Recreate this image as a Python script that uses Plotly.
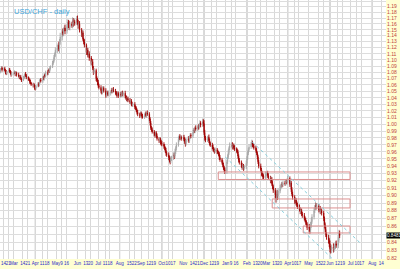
import numpy as np
import pandas as pd
import plotly.graph_objects as go

# ---------------- data (daily closes) ----------------
close_2010_02 = [1.0820, 1.0850, 1.0870, 1.0840, 1.0860, 1.0830, 1.0800, 1.0780, 1.0810, 1.0840, 1.0820, 1.0790, 1.0760, 1.0780]
close_2010_03 = [1.0790, 1.0800, 1.0770, 1.0790, 1.0760, 1.0740, 1.0720, 1.0730, 1.0700, 1.0680, 1.0710, 1.0740, 1.0770, 1.0750, 1.0720, 1.0690, 1.0680, 1.0650, 1.0630, 1.0610, 1.0590, 1.0600, 1.0560]
close_2010_04 = [1.0550, 1.0580, 1.0620, 1.0600, 1.0650, 1.0680, 1.0660, 1.0720, 1.0700, 1.0760, 1.0740, 1.0800, 1.0780, 1.0840, 1.0820, 1.0870, 1.0890, 1.0950, 1.0980, 1.1040, 1.1090, 1.1160]
close_2010_05 = [1.1200, 1.1240, 1.1180, 1.1300, 1.1380, 1.1470, 1.1440, 1.1510, 1.1530, 1.1480, 1.1560, 1.1630, 1.1590, 1.1540, 1.1600, 1.1570, 1.1660, 1.1610, 1.1640, 1.1620, 1.1690]
close_2010_06 = [1.1630, 1.1570, 1.1600, 1.1500, 1.1420, 1.1450, 1.1340, 1.1300, 1.1240, 1.1130, 1.1160, 1.1080, 1.1100, 1.1030, 1.0940, 1.0970, 1.0870, 1.0800, 1.0830, 1.0700, 1.0680, 1.0640]
close_2010_07 = [1.0590, 1.0560, 1.0510, 1.0480, 1.0530, 1.0550, 1.0510, 1.0440, 1.0460, 1.0480, 1.0450, 1.0470, 1.0490, 1.0520, 1.0500, 1.0530, 1.0510, 1.0480, 1.0460, 1.0440, 1.0470, 1.0430]
close_2010_08 = [1.0460, 1.0440, 1.0480, 1.0450, 1.0470, 1.0420, 1.0400, 1.0370, 1.0390, 1.0360, 1.0330, 1.0350, 1.0310, 1.0290, 1.0300, 1.0260, 1.0240, 1.0210, 1.0180, 1.0150, 1.0130, 1.0160]
close_2010_09 = [1.0150, 1.0120, 1.0110, 1.0140, 1.0160, 1.0130, 1.0170, 1.0150, 1.0080, 1.0020, 0.9950, 0.9920, 0.9890, 0.9860, 0.9840, 0.9870, 0.9830, 0.9790, 0.9760, 0.9780, 0.9740, 0.9720]
close_2010_10 = [0.9710, 0.9680, 0.9650, 0.9620, 0.9580, 0.9560, 0.9520, 0.9490, 0.9470, 0.9500, 0.9520, 0.9560, 0.9540, 0.9600, 0.9650, 0.9700, 0.9780, 0.9820, 0.9800, 0.9810, 0.9790]
close_2010_11 = [0.9810, 0.9780, 0.9750, 0.9720, 0.9770, 0.9790, 0.9760, 0.9810, 0.9840, 0.9830, 0.9880, 0.9920, 0.9900, 0.9950, 0.9930, 0.9970, 0.9950, 0.9990, 1.0020, 0.9990, 1.0040, 1.0010]
close_2010_12 = [0.9880, 0.9800, 0.9770, 0.9790, 0.9810, 0.9760, 0.9720, 0.9700, 0.9670, 0.9640, 0.9620, 0.9610, 0.9630, 0.9600, 0.9590, 0.9570, 0.9520, 0.9490, 0.9450, 0.9420, 0.9380, 0.9350, 0.9330]
close_2011_01 = [0.9460, 0.9530, 0.9590, 0.9650, 0.9690, 0.9700, 0.9670, 0.9690, 0.9660, 0.9640, 0.9620, 0.9600, 0.9540, 0.9480, 0.9450, 0.9410, 0.9380, 0.9400, 0.9370, 0.9390, 0.9440]
close_2011_02 = [0.9510, 0.9580, 0.9630, 0.9670, 0.9710, 0.9730, 0.9700, 0.9680, 0.9660, 0.9620, 0.9580, 0.9530, 0.9460, 0.9400, 0.9350, 0.9300, 0.9280, 0.9260, 0.9240, 0.9290]
close_2011_03 = [0.9290, 0.9300, 0.9270, 0.9240, 0.9200, 0.9220, 0.9160, 0.9120, 0.9070, 0.9010, 0.8960, 0.9020, 0.8990, 0.9060, 0.9110, 0.9130, 0.9150, 0.9140, 0.9170, 0.9160, 0.9190, 0.9180, 0.9200]
close_2011_04 = [0.9230, 0.9150, 0.9170, 0.9080, 0.9020, 0.8980, 0.8920, 0.8940, 0.8900, 0.8880, 0.8850, 0.8820, 0.8790, 0.8800, 0.8760, 0.8740, 0.8700, 0.8680, 0.8650, 0.8620, 0.8590]
close_2011_05 = [0.8570, 0.8550, 0.8610, 0.8660, 0.8720, 0.8800, 0.8840, 0.8870, 0.8850, 0.8860, 0.8810, 0.8830, 0.8790, 0.8800, 0.8770, 0.8700, 0.8620, 0.8560, 0.8500, 0.8460, 0.8420, 0.8380]
close_2011_06 = [0.8320, 0.8300, 0.8340, 0.8310, 0.8330, 0.8350, 0.8380, 0.8360, 0.8430, 0.8510, 0.8481]

first_open = 1.0800
first_date = "2010-02-09"

# upper / lower wick lengths in pips (one row per month)
hi_wick_pips = [
    25, 18, 30, 22, 15, 28, 20, 35, 12, 24, 30, 18, 26, 20,
    22, 30, 15, 26, 20, 34, 18, 24, 28, 16, 30, 22, 19, 35, 25, 14, 28, 20, 32, 18, 24, 27, 21,
    30, 18, 25, 22, 35, 16, 28, 20, 24, 30, 15, 26, 33, 18, 22, 29, 20, 35, 25, 40, 30, 45,
    50, 35, 60, 45, 70, 40, 55, 30, 45, 60, 35, 50, 40, 65, 45, 38, 55, 42, 60, 35, 48,
    55, 40, 35, 50, 30, 45, 38, 25, 42, 30, 48, 35, 28, 40, 33, 25, 45, 30, 38, 28, 35, 30,
    40, 28, 35, 22, 45, 30, 26, 38, 20, 32, 28, 40, 24, 30, 35, 22, 36, 28, 25, 33, 30, 26,
    28, 35, 22, 30, 26, 38, 20, 32, 25, 28, 36, 22, 30, 27, 24, 33, 21, 29, 26, 35, 23, 30,
    30, 25, 35, 22, 28, 32, 20, 36, 30, 25, 28, 22, 34, 26, 30, 24, 28, 35, 22, 30, 26, 32,
    35, 28, 30, 25, 38, 22, 32, 27, 30, 40, 25, 33, 28, 45, 30, 36, 42, 28, 35, 30, 26,
    30, 35, 28, 40, 26, 32, 38, 25, 30, 28, 36, 24, 32, 27, 35, 22, 30, 28, 40, 26, 45, 35,
    50, 38, 30, 35, 28, 40, 32, 26, 30, 35, 24, 28, 33, 25, 30, 22, 27, 35, 25, 30, 28, 24, 30,
    30, 35, 40, 28, 45, 32, 38, 26, 30, 35, 24, 28, 30, 25, 32, 28, 35, 24, 30, 26, 38,
    30, 35, 28, 40, 32, 45, 30, 26, 35, 28, 32, 25, 30, 28, 35, 24, 30, 26, 28, 35,
    32, 28, 35, 30, 26, 38, 28, 32, 25, 30, 45, 60, 50, 38, 30, 28, 35, 25, 30, 28, 32, 26, 30,
    35, 28, 40, 26, 32, 30, 25, 35, 28, 30, 26, 32, 24, 30, 28, 25, 30, 26, 28, 24, 30,
    40, 30, 45, 50, 35, 40, 32, 45, 30, 38, 28, 35, 30, 32, 28, 30, 25, 28, 30, 26, 32, 28,
    40, 35, 30, 45, 28, 35, 30, 40, 32, 45, 35,
]
lo_wick_pips = [
    20, 28, 15, 30, 22, 18, 32, 25, 20, 16, 28, 22, 30, 18,
    26, 18, 32, 20, 28, 22, 30, 16, 25, 34, 20, 18, 27, 22, 30, 24, 18, 33, 20, 26, 30, 22, 35,
    35, 25, 20, 30, 18, 28, 22, 26, 20, 32, 24, 18, 28, 22, 30, 20, 26, 22, 30, 25, 35, 40,
    45, 55, 40, 70, 50, 60, 35, 48, 40, 55, 45, 38, 60, 42, 50, 35, 45, 55, 40, 48, 38,
    40, 50, 35, 45, 40, 55, 30, 42, 35, 48, 30, 40, 35, 45, 28, 38, 32, 42, 30, 40, 35, 45,
    35, 30, 42, 28, 25, 36, 30, 40, 26, 32, 28, 24, 35, 22, 30, 28, 25, 34, 30, 38, 24, 32,
    30, 24, 32, 26, 35, 28, 30, 22, 34, 28, 25, 30, 38, 24, 30, 32, 26, 28, 35, 30, 36, 25,
    28, 32, 25, 30, 22, 26, 35, 24, 30, 38, 32, 28, 26, 30, 34, 24, 30, 28, 32, 26, 34, 30,
    30, 35, 28, 32, 36, 30, 38, 40, 45, 30, 28, 35, 40, 26, 30, 28, 25, 32, 30, 28, 30,
    32, 28, 35, 45, 30, 26, 32, 28, 25, 34, 30, 26, 28, 30, 24, 32, 28, 26, 30, 35, 28, 40,
    35, 40, 32, 28, 30, 35, 30, 28, 32, 30, 26, 35, 28, 30, 25, 32, 35, 30, 28, 35, 32, 30, 38,
    38, 30, 28, 32, 26, 30, 35, 28, 30, 26, 32, 28, 35, 30, 28, 32, 30, 26, 35, 28, 30,
    35, 28, 26, 30, 28, 25, 32, 30, 28, 30, 26, 35, 30, 32, 28, 35, 30, 38, 32, 30,
    30, 28, 32, 30, 35, 28, 30, 32, 35, 40, 55, 45, 50, 35, 30, 28, 32, 30, 26, 28, 30, 28, 32,
    28, 35, 30, 32, 28, 35, 30, 26, 32, 30, 28, 30, 35, 26, 30, 32, 28, 30, 32, 35, 38,
    40, 45, 32, 30, 28, 32, 30, 28, 35, 30, 32, 28, 35, 30, 32, 35, 38, 32, 35, 30, 38, 40,
    45, 40, 35, 38, 32, 30, 35, 30, 35, 32, 30,
]

# drawn support boxes and trend channel
box_start = ["2010-12-21 12:00", "2011-03-09 12:00", "2011-04-23 08:00"]
box_end = ["2011-06-30", "2011-06-30", "2011-06-30"]
box_low = [0.9216, 0.8836, 0.8515]
box_high = [0.9319, 0.8954, 0.8603]
chan_upper_dates = ["2011-02-08 14:00", "2011-07-14 17:00"]
chan_upper_prices = [0.9742, 0.8390]
chan_lower_dates = ["2010-12-31 14:00", "2011-06-18 14:00"]
chan_lower_prices = [0.9528, 0.8085]

# axes
x_range = ["2010-02-09", "2011-08-21"]
y_range = [0.8193, 1.2019]
xtick_dates = ["2010-02-14", "2010-02-21",
               "2010-03-01", "2010-03-14", "2010-03-21",
               "2010-04-01", "2010-04-11", "2010-04-18",
               "2010-05-01", "2010-05-09", "2010-05-16",
               "2010-06-01", "2010-06-13", "2010-06-20",
               "2010-07-01", "2010-07-11", "2010-07-18",
               "2010-08-01", "2010-08-15", "2010-08-22",
               "2010-09-01", "2010-09-12", "2010-09-19",
               "2010-10-01", "2010-10-10", "2010-10-17",
               "2010-11-01", "2010-11-14", "2010-11-21",
               "2010-12-01", "2010-12-12", "2010-12-19",
               "2011-01-01", "2011-01-09", "2011-01-16",
               "2011-02-01", "2011-02-13", "2011-02-20",
               "2011-03-01", "2011-03-13", "2011-03-20",
               "2011-04-01", "2011-04-10", "2011-04-17",
               "2011-05-01", "2011-05-15", "2011-05-22",
               "2011-06-01", "2011-06-12", "2011-06-19",
               "2011-07-01", "2011-07-10", "2011-07-17",
               "2011-08-01", "2011-08-14"]
xtick_text = ["14", "21",
              "Mar", "14", "21",
              "Apr", "11", "18",
              "May", "9", "16",
              "Jun", "13", "20",
              "Jul", "11", "18",
              "Aug", "15", "22",
              "Sep", "12", "19",
              "Oct", "10", "17",
              "Nov", "14", "21",
              "Dec", "12", "19",
              "Jan", "9", "16",
              "Feb", "13", "20",
              "Mar", "13", "20",
              "Apr", "10", "17",
              "May", "15", "22",
              "Jun", "12", "19",
              "Jul", "10", "17",
              "Aug", "14"]
dark_grid_dates = ["2010-04-01", "2010-06-01", "2010-08-01", "2010-10-01", "2010-12-01",
                   "2011-02-01", "2011-04-01", "2011-06-01", "2011-08-01"]
ytick_vals = [0.82, 0.83, 0.84, 0.85, 0.86, 0.87, 0.88, 0.89, 0.90, 0.91, 0.92, 0.93, 0.94,
              0.95, 0.96, 0.97, 0.98, 0.99, 1.00, 1.01, 1.02, 1.03, 1.04, 1.05, 1.06, 1.07,
              1.08, 1.09, 1.10, 1.11, 1.12, 1.13, 1.14, 1.15, 1.16, 1.17, 1.18, 1.19, 1.20]
ytick_hidden = [0.85]   # covered by the last-price box in the original

# ---------------- assemble OHLC ----------------
close = np.array(close_2010_02 + close_2010_03 + close_2010_04 + close_2010_05 + close_2010_06 +
                 close_2010_07 + close_2010_08 + close_2010_09 + close_2010_10 + close_2010_11 +
                 close_2010_12 + close_2011_01 + close_2011_02 + close_2011_03 + close_2011_04 +
                 close_2011_05 + close_2011_06)
n = len(close)
assert len(hi_wick_pips) == n and len(lo_wick_pips) == n, (n, len(hi_wick_pips), len(lo_wick_pips))
dates = pd.bdate_range(first_date, periods=n)
open_ = np.concatenate([[first_open], close[:-1]])
high = np.maximum(open_, close) + np.array(hi_wick_pips) / 10000.0
low = np.minimum(open_, close) - np.array(lo_wick_pips) / 10000.0

fig = go.Figure()

# darker vertical grid lines (every second month)
for d in dark_grid_dates:
    fig.add_shape(type="line", xref="x", yref="paper", x0=d, x1=d, y0=0, y1=1,
                  line=dict(color="#ABABAB", width=1), layer="below")

# boxes
for s, e, lo, hi in zip(box_start, box_end, box_low, box_high):
    fig.add_trace(go.Scatter(x=[s, e, e, s, s], y=[lo, lo, hi, hi, lo], mode="lines",
                             line=dict(color="#DB9090", width=1), hoverinfo="skip",
                             showlegend=False))

# channel lines
for cx, cy in ((chan_upper_dates, chan_upper_prices), (chan_lower_dates, chan_lower_prices)):
    fig.add_trace(go.Scatter(x=cx, y=cy, mode="lines",
                             line=dict(color="#86CEDC", width=1, dash="dot"), hoverinfo="skip",
                             showlegend=False))

fig.add_trace(go.Candlestick(
    x=dates, open=open_, high=high, low=low, close=close,
    increasing=dict(line=dict(color="#A6A6A6", width=0.9), fillcolor="#EDEDED"),
    decreasing=dict(line=dict(color="#A00000", width=0.9), fillcolor="#C00000"),
    whiskerwidth=0, showlegend=False, hoverinfo="skip"))

fig.add_annotation(text="USD/CHF - daily", xref="paper", yref="paper",
                   x=12 / 386, y=1 - 11 / 259, xanchor="left", yanchor="middle",
                   showarrow=False,
                   font=dict(family="Liberation Sans, Arial", size=7.5, color="#3DA5DA"))

fig.add_annotation(text=f"{close[-1]:.4f}", xref="paper", yref="y",
                   x=1.0, y=np.log10(close[-1]), xanchor="left", yanchor="middle",
                   showarrow=False, bgcolor="#000000", borderpad=0,
                   font=dict(family="Liberation Sans, Arial", size=4.6, color="#FFFFFF"))

fig.update_layout(
    width=400, height=269,
    margin=dict(l=0, r=14, t=0, b=10),
    paper_bgcolor="#FFFFD2", plot_bgcolor="#FFFFFF",
    showlegend=False,
    xaxis=dict(type="date", range=x_range, tickmode="array", tickvals=xtick_dates,
               ticktext=xtick_text, tickangle=0, showgrid=True, gridcolor="#D8D8D8",
               gridwidth=1, ticks="", showline=False, zeroline=False,
               tickfont=dict(family="Liberation Sans, Arial", size=4.5, color="#2B2BC8"),
               rangeslider=dict(visible=False), fixedrange=True),
    yaxis=dict(type="log", range=[np.log10(y_range[0]), np.log10(y_range[1])], side="right",
               tickmode="array", tickvals=ytick_vals,
               ticktext=["" if v in ytick_hidden else f"{v:.2f}" for v in ytick_vals],
               showgrid=True, gridcolor="#DDDDDD", gridwidth=1, ticks="",
               showline=False, zeroline=False,
               tickfont=dict(family="Liberation Sans, Arial", size=5, color="#C04040"),
               fixedrange=True),
)

fig.write_html("out.html")
